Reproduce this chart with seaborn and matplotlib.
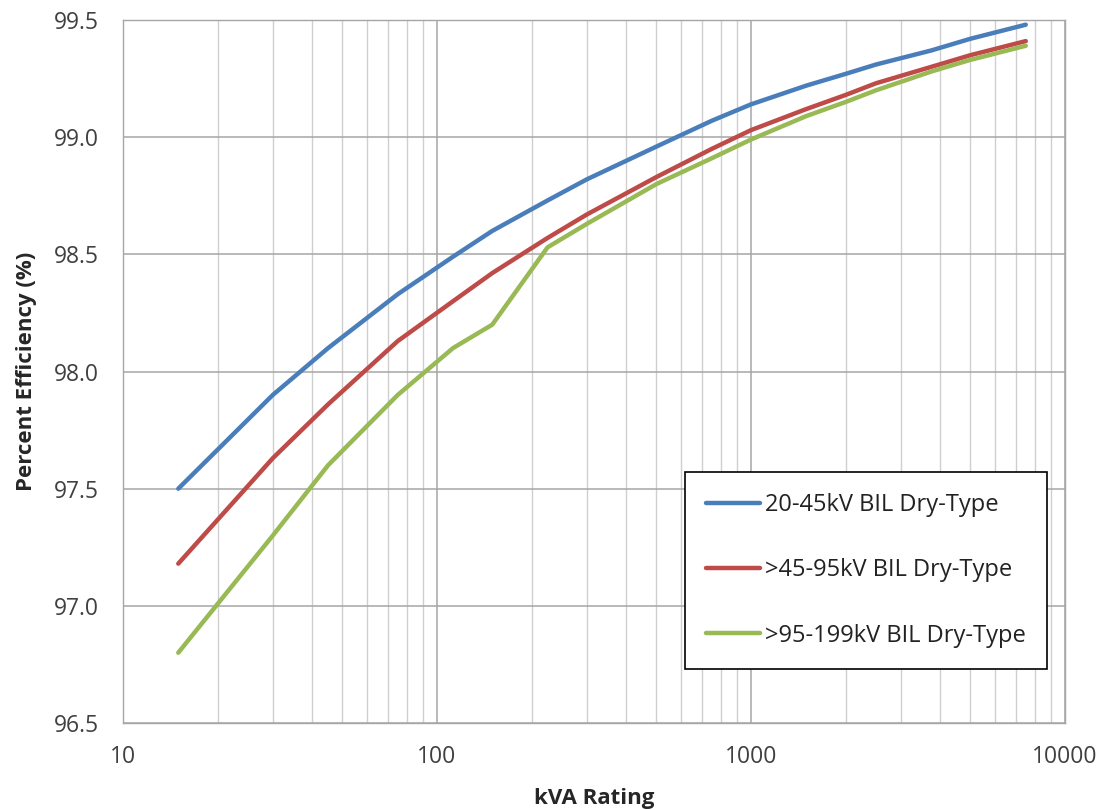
import numpy as np
import pandas as pd
import seaborn as sns
import matplotlib.pyplot as plt
from matplotlib.ticker import LogLocator, FixedLocator, FixedFormatter, NullFormatter

# kVA ratings and efficiency values
kva = [15, 30, 45, 75, 112.5, 150, 225, 300, 500, 750, 1000, 1500, 2000, 2500, 3750, 5000, 7500]
eff_20_45 = [97.50, 97.90, 98.10, 98.33, 98.49, 98.60, 98.73, 98.82, 98.96, 99.07, 99.14, 99.22, 99.27, 99.31, 99.37, 99.42, 99.48]
eff_45_95 = [97.18, 97.63, 97.86, 98.13, 98.30, 98.42, 98.57, 98.67, 98.83, 98.95, 99.03, 99.12, 99.18, 99.23, 99.30, 99.35, 99.41]
eff_95_199 = [96.80, 97.30, 97.60, 97.90, 98.10, 98.20, 98.53, 98.63, 98.80, 98.91, 98.99, 99.09, 99.15, 99.20, 99.28, 99.33, 99.39]

series_names = ["20-45kV BIL Dry-Type", ">45-95kV BIL Dry-Type", ">95-199kV BIL Dry-Type"]
colors = ["#4A7EBB", "#BE4B48", "#98B954"]

df = pd.concat([
    pd.DataFrame({"kVA": kva, "Efficiency": vals, "Series": name})
    for name, vals in zip(series_names, [eff_20_45, eff_45_95, eff_95_199])
], ignore_index=True)

sns.set_style("white")
plt.rcParams['font.family'] = ['Open Sans', 'DejaVu Sans']

fig = plt.figure(figsize=(11.01, 8.10), dpi=100)
ax = fig.add_axes([0.1117, 0.1074, 0.8556, 0.8679])

sns.lineplot(data=df, x="kVA", y="Efficiency", hue="Series", hue_order=series_names,
             palette=colors, linewidth=3.2, ax=ax, sort=False)

ax.set_xscale("log")
ax.set_xlim(10, 10000)
ax.set_ylim(96.5, 99.5)

ax.xaxis.set_major_locator(FixedLocator([10, 100, 1000, 10000]))
ax.xaxis.set_major_formatter(FixedFormatter(["10", "100", "1000", "10000"]))
ax.xaxis.set_minor_locator(LogLocator(base=10, subs=np.arange(2, 10)))
ax.xaxis.set_minor_formatter(NullFormatter())
ax.set_yticks(np.arange(96.5, 99.51, 0.5))
ax.set_yticklabels([f"{v:.1f}" for v in np.arange(96.5, 99.51, 0.5)])

ax.grid(True, which="major", color="#A6A6A6", linewidth=1.1)
ax.grid(True, which="minor", axis="x", color="#CFCFCF", linewidth=1.0)
ax.set_axisbelow(True)

for s in ax.spines.values():
    s.set_color("#A6A6A6")
    s.set_linewidth(1.0)

ax.tick_params(axis="both", which="major", labelsize=16.5, colors="#404040",
               length=5.5, direction="out", width=1, color="#A6A6A6")
ax.tick_params(axis="both", which="minor", length=0)
ax.tick_params(axis="y", pad=12)
ax.tick_params(axis="x", pad=10)

ax.set_xlabel("kVA Rating", fontsize=16, fontweight="bold", labelpad=14)
ax.set_ylabel("Percent Efficiency (%)", fontsize=16, fontweight="bold", labelpad=12)

leg = ax.legend(loc="lower right", bbox_to_anchor=(0.981, 0.077), fontsize=17,
                frameon=True, fancybox=False, edgecolor="black", framealpha=1,
                labelspacing=1.75, handlelength=2.3, handletextpad=0.2,
                borderpad=0.9, borderaxespad=0, title=None)
leg.get_frame().set_linewidth(1.2)
for t in leg.get_texts():
    t.set_color("#222222")

fig.savefig("out.png", dpi=100)
